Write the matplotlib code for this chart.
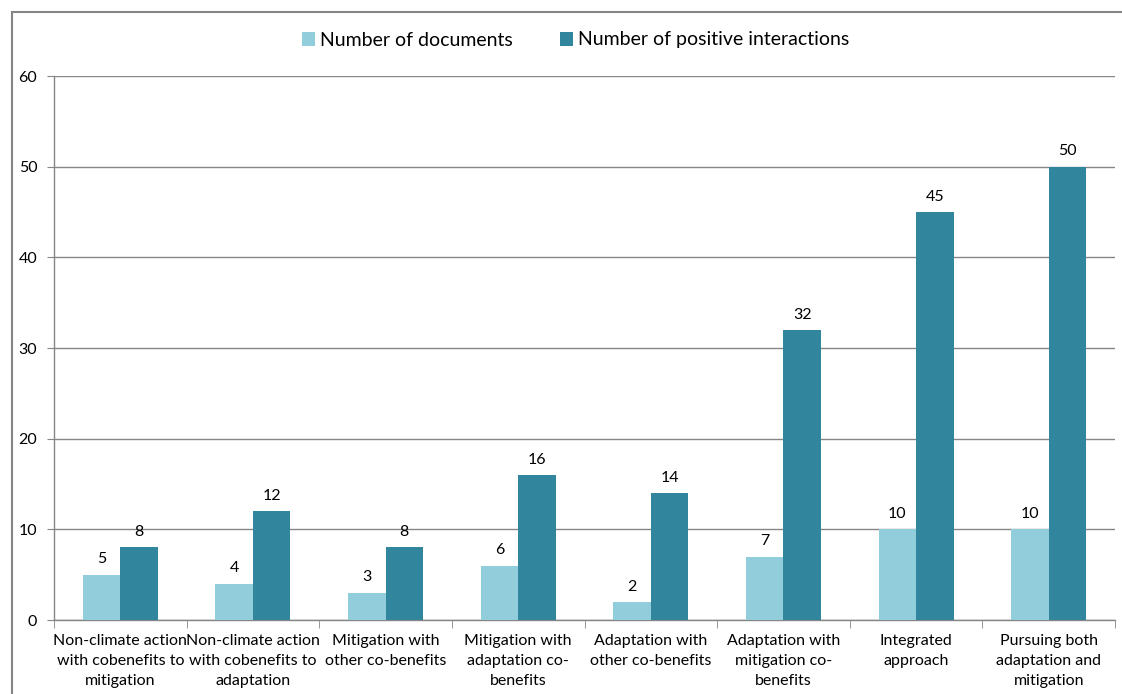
import matplotlib
matplotlib.use("Agg")
import matplotlib.pyplot as plt
import numpy as np
from matplotlib.patches import Rectangle

categories = [
    "Non-climate action\nwith cobenefits to\nmitigation",
    "Non-climate action\nwith cobenefits to\nadaptation",
    "Mitigation with\nother co-benefits",
    "Mitigation with\nadaptation co-\nbenefits",
    "Adaptation with\nother co-benefits",
    "Adaptation with\nmitigation co-\nbenefits",
    "Integrated\napproach",
    "Pursuing both\nadaptation and\nmitigation",
]
documents = [5, 4, 3, 6, 2, 7, 10, 10]
interactions = [8, 12, 8, 16, 14, 32, 45, 50]
series_names = ["Number of documents", "Number of positive interactions"]
yticks = [0, 10, 20, 30, 40, 50, 60]

plt.rcParams['font.family'] = ['Lato', 'DejaVu Sans']
light = "#92CDDC"
dark = "#31859C"
gray = "#868686"

fig = plt.figure(figsize=(11.22, 6.94), dpi=100)
ax = fig.add_axes([54/1122, 1-620/694, (1115-54)/1122, (620-76)/694])

x = np.arange(len(categories))
w = 0.283
b1 = ax.bar(x - w/2, documents, w, color=light, label=series_names[0], zorder=3)
b2 = ax.bar(x + w/2, interactions, w, color=dark, label=series_names[1], zorder=3)

for rects, vals in ((b1, documents), (b2, interactions)):
    for r, v in zip(rects, vals):
        ax.annotate(str(v), (r.get_x() + r.get_width()/2, v), xytext=(0, 6),
                    textcoords="offset points", ha="center", va="bottom",
                    fontsize=11.5, color="#000000")

ax.set_xlim(-0.5, len(categories) - 0.5)
ax.set_ylim(0, 60)
ax.set_yticks(yticks)
ax.set_yticklabels([str(t) for t in yticks], fontsize=11.5)
ax.yaxis.grid(True, color=gray, linewidth=1.0, zorder=0)
ax.set_axisbelow(True)

ax.set_xticks(x)
ax.set_xticklabels(categories, fontsize=11.5, linespacing=1.55)
ax.tick_params(axis='x', length=0, pad=10)
ax.set_xticks(np.arange(-0.5, len(categories) + 0.5, 1), minor=True)
ax.tick_params(axis='x', which='minor', length=6, color=gray, direction='out')
ax.tick_params(axis='y', length=5, color=gray, pad=7)

for s in ("top", "right"):
    ax.spines[s].set_visible(False)
for s in ("left", "bottom"):
    ax.spines[s].set_color(gray)
    ax.spines[s].set_linewidth(1.0)

fig.legend(handles=[b1, b2], labels=series_names, loc="center",
           bbox_to_anchor=(0.513, 1-40/694), ncol=2, frameon=False,
           fontsize=14, handlelength=0.7, handleheight=0.7,
           handletextpad=0.25, columnspacing=2.4)

fig.patches.append(Rectangle((12/1122, -0.05), 1.2, 1 - 12/694 + 0.05,
                             transform=fig.transFigure, fill=False,
                             edgecolor=gray, linewidth=1.5, zorder=10))

fig.savefig("out.png", dpi=100)
